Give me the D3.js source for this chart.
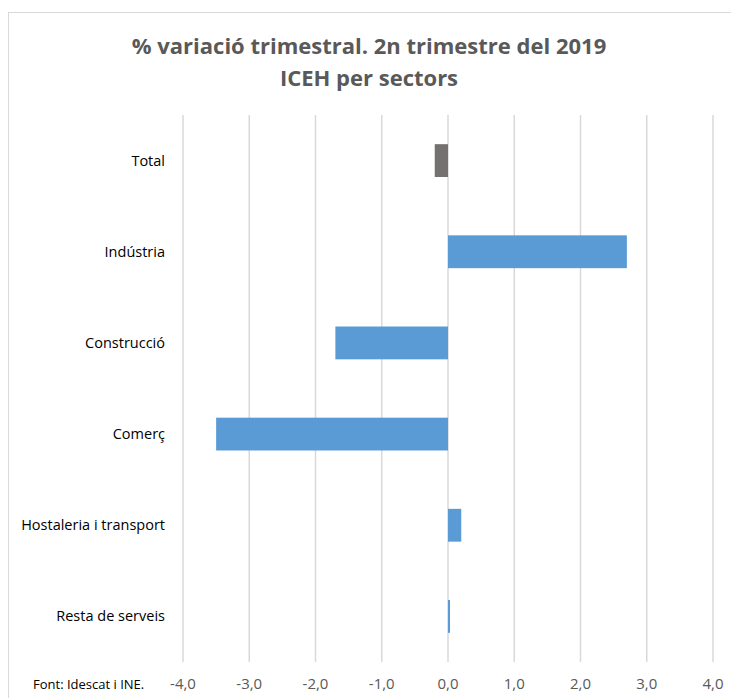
<!DOCTYPE html>
<html>
<head>
<meta charset="utf-8">
<script src="https://cdn.jsdelivr.net/npm/d3@7"></script>
<style>
	body { margin: 0; background: #fff; }
	text { font-family: "Open Sans", sans-serif; }
</style>
</head>
<body>
<div id="chartDiv"></div>
<script>
;(function() {

	var width = 731;
	var height = 698;
	var margin = { top: 115, right: 18, bottom: 36, left: 183 };

	// data
	var categories = ["Total", "Indústria", "Construcció", "Comerç", "Hostaleria i transport", "Resta de serveis"];
	var values = [-0.2, 2.7, -1.7, -3.5, 0.2, 0.03];
	var xTicks = [-4, -3, -2, -1, 0, 1, 2, 3, 4];
	var titleLines = ["% variació trimestral. 2n trimestre del 2019", "ICEH per sectors"];
	var sourceNote = "Font: Idescat i INE.";

	var chartWidth = width - margin.left - margin.right;
	var chartHeight = height - margin.top - margin.bottom;

	var chart = d3.select("#chartDiv").append("svg")
		.attr("width", width)
		.attr("height", height);

	// outer frame
	chart.append("rect")
		.attr("x", 8.5)
		.attr("y", 12.5)
		.attr("width", width + 20)
		.attr("height", height + 20)
		.attr("fill", "none")
		.attr("stroke", "#d9d9d9");

	// title
	chart.append("text")
		.attr("text-anchor", "middle")
		.attr("fill", "#595959")
		.style("font-size", "22px")
		.style("font-weight", "bold")
		.selectAll("tspan")
		.data(titleLines)
		.enter().append("tspan")
			.attr("x", 369)
			.attr("y", function(d, i) { return 54 + i * 32; })
			.text(function(d) { return d; });

	var xScale = d3.scaleLinear()
		.domain([-4, 4])
		.range([0, chartWidth]);

	var yScale = d3.scaleBand()
		.domain(categories)
		.range([0, chartHeight])
		.paddingInner(0.64)
		.paddingOuter(0.32);

	var plotArea = chart.append("g")
		.attr("transform", "translate(" + margin.left + "," + margin.top + ")");

	// vertical gridlines
	plotArea.selectAll(".grid")
		.data(xTicks)
		.enter().append("line")
			.attr("class", "grid")
			.attr("x1", function(d) { return xScale(d); })
			.attr("x2", function(d) { return xScale(d); })
			.attr("y1", 0)
			.attr("y2", chartHeight)
			.attr("stroke", "#d9d9d9")
			.attr("stroke-width", 1.5);

	// bars
	plotArea.selectAll(".bar")
		.data(values)
		.enter().append("rect")
			.attr("class", "bar")
			.attr("x", function(d) { return xScale(Math.min(0, d)); })
			.attr("y", function(d, i) { return yScale(categories[i]); })
			.attr("width", function(d) { return Math.abs(xScale(d) - xScale(0)); })
			.attr("height", yScale.bandwidth())
			.attr("fill", function(d, i) { return i === 0 ? "#767171" : "#5b9bd5"; });

	// category labels
	chart.selectAll(".cat")
		.data(categories)
		.enter().append("text")
			.attr("class", "cat")
			.attr("x", 165)
			.attr("y", function(d) { return margin.top + yScale(d) + yScale.bandwidth() / 2; })
			.attr("dy", "0.35em")
			.attr("text-anchor", "end")
			.attr("fill", "#000")
			.style("font-size", "14.5px")
			.text(function(d) { return d; });

	// x tick labels
	var fmt = function(d) { return d3.format(".1f")(d).replace(".", ",").replace("−", "-"); };
	chart.selectAll(".xtick")
		.data(xTicks)
		.enter().append("text")
			.attr("class", "xtick")
			.attr("x", function(d) { return margin.left + xScale(d); })
			.attr("y", 689)
			.attr("text-anchor", "middle")
			.attr("fill", "#595959")
			.style("font-size", "15px")
			.text(fmt);

	// source note
	chart.append("text")
		.attr("x", 33)
		.attr("y", 689)
		.attr("fill", "#000")
		.style("font-size", "13px")
		.text(sourceNote);

})();
</script>
</body>
</html>
